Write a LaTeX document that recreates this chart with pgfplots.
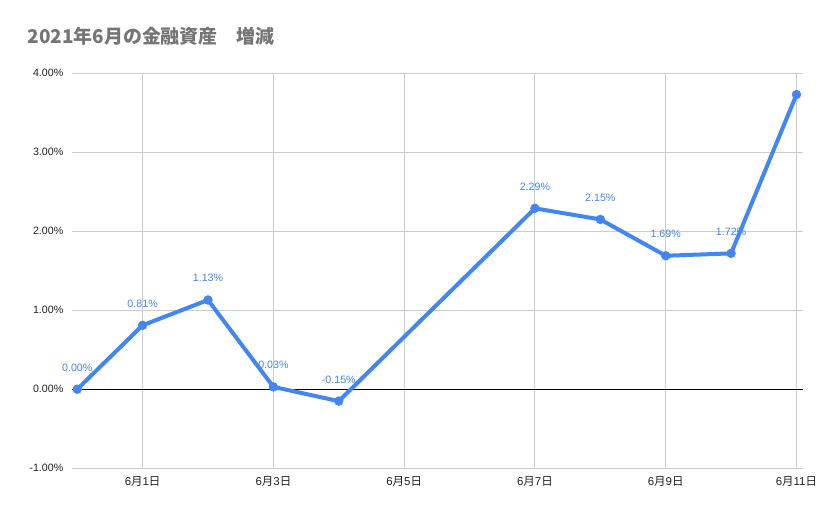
\documentclass[border=0pt]{standalone}
\usepackage{pgfplots}
\pgfplotsset{compat=1.18}
\usepackage{fontspec}
\setmainfont{Liberation Sans}
\newfontfamily\jp{Noto Sans CJK JP}
\definecolor{gblue}{HTML}{4285F4}
\definecolor{gridc}{HTML}{CCCCCC}
\definecolor{ttl}{HTML}{757575}
\definecolor{tick}{HTML}{222222}
\begin{document}
\begin{tikzpicture}
\useasboundingbox (0,0) rectangle (621.75pt,385.5pt);
\node[anchor=base west, font=\jp\bfseries\fontsize{14.2}{16}\selectfont, text=ttl, inner sep=0] at (20.5pt,352.5pt) {2021年6月の金融資産　増減};
\begin{axis}[
  at={(54pt,34.3pt)}, anchor=south west,
  scale only axis, width=548.25pt, height=296.25pt,
  xmin=-0.08, xmax=11.1, ymin=-1, ymax=4,
  xtick={1,3,5,7,9,11},
  xticklabels={6{\jp 月}1{\jp 日},6{\jp 月}3{\jp 日},6{\jp 月}5{\jp 日},6{\jp 月}7{\jp 日},6{\jp 月}9{\jp 日},6{\jp 月}11{\jp 日}},
  ytick={-1,0,1,2,3,4},
  yticklabel={\pgfmathprintnumber[fixed,fixed zerofill,precision=2]{\tick}\%},
  /pgf/number format/assume math mode=true,
  grid=major, major grid style={gridc, line width=0.75pt},
  extra y ticks={0}, extra y tick labels={},
  extra y tick style={major grid style={black, line width=0.75pt}},
  axis line style={draw=none}, tick style={draw=none},
  ticklabel style={font=\fontsize{8}{9}\selectfont, text=tick},
  yticklabel style={xshift=-3pt},
  xticklabel style={yshift=-2.5pt, font=\fontsize{8.6}{10}\selectfont},
  clip=false,
]
\addplot[gblue, line width=3pt, mark=*, mark size=3.3pt, mark options={solid, fill=gblue, draw=gblue, line width=0.4pt}]
  coordinates {(0,0) (1,0.81) (2,1.13) (3,0.03) (4,-0.15) (7,2.29) (8,2.15) (9,1.69) (10,1.72) (11,3.73)};
\addplot[draw=none, mark=none, point meta=explicit symbolic,
  nodes near coords, nodes near coords style={font=\fontsize{8}{9}\selectfont, text=gblue, anchor=base, inner sep=0pt, yshift=13.5pt}]
  coordinates {(0,0)[0.00\%] (1,0.81)[0.81\%] (2,1.13)[1.13\%] (3,0.03)[0.03\%] (4,-0.15)[-0.15\%] (7,2.29)[2.29\%] (8,2.15)[2.15\%] (9,1.69)[1.69\%] (10,1.72)[1.72\%]};
\end{axis}
\end{tikzpicture}
\end{document}
